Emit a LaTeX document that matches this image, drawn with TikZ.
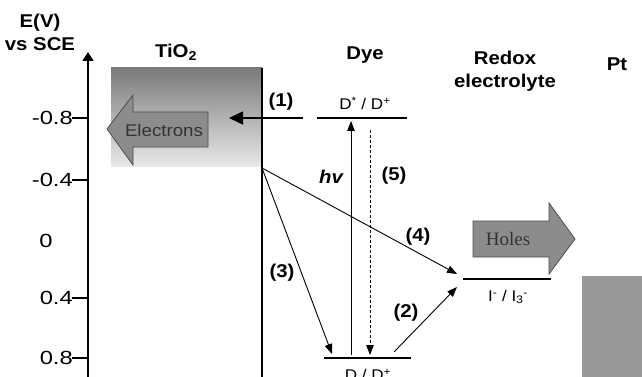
\documentclass[tikz,border=0pt]{standalone}
\usepackage{fontspec}
\setmainfont[FakeStretch=1.1]{Liberation Sans}
\newfontfamily\serif{Liberation Serif}
\newfontfamily\axfont[FakeStretch=1.25]{Liberation Sans}
\usetikzlibrary{arrows.meta}
\begin{document}
\begin{tikzpicture}[x=1pt,y=-1pt,
  lbl/.style={font=\fontsize{18.5}{23}\selectfont\bfseries, inner sep=0pt, align=center},
  axlabel/.style={font=\axfont\fontsize{19}{22}\selectfont, inner sep=0pt, anchor=east},
  lvl/.style={line width=2.2pt},
  small/.style={font=\fontsize{15.5}{17}\selectfont, inner sep=0pt},
  arr/.style={line width=0.9pt, -{Triangle[length=10pt,width=7.5pt]}},
  bigarrow/.style={draw=black!70, line width=0.8pt}
]
\useasboundingbox (0,0) rectangle (642,377);
% axis
\coordinate (axb) at (88,377);
\coordinate (axt) at (88,52);
\draw[line width=1.8pt, -{Triangle[length=9pt,width=11pt]}] (axb) -- (axt);
\foreach \v/\y in {-0.8/118,-0.4/180,0.4/298,0.8/358}{
  \draw[line width=1.4pt] (72,\y) -- (88,\y);
  \node[axlabel] at (73,\y) {\v};
}
\node[axlabel, anchor=center] (zero) at (46,241) {0};
\node[lbl] (ev) at (40,32) {E(V)\\vs SCE};
% TiO2
\shade[top color=black!52, bottom color=black!9] (111,68) rectangle (262,166);
\coordinate (tioT) at (262,68);
\coordinate (tioB) at (262,377);
\draw[line width=1.8pt] (tioT) -- (tioB);
\node[lbl] (tio) at (176,52) {TiO\textsubscript{2}};
\draw[bigarrow, fill=black!45] (107,129) -- (133,95) -- (133,112) -- (208,112) -- (208,147) -- (133,147) -- (133,165) -- cycle;
\node[font=\fontsize{17}{19}\selectfont, text=black!80, inner sep=0pt] (el) at (164,130) {Electrons};
% Dye
\node[lbl] (dye) at (365,55) {Dye};
\coordinate (dtL) at (317,118);
\coordinate (dtR) at (407,118);
\draw[lvl] (dtL) -- (dtR);
\node[small] (dtlab) at (365,103) {D\textsuperscript{*} / D\textsuperscript{+}};
\coordinate (dbL) at (324,358);
\coordinate (dbR) at (411,358);
\draw[lvl] (dbL) -- (dbR);
\node[small, anchor=north] (dblab) at (368,369) {D / D\textsuperscript{+}};
% hv
\coordinate (hvb) at (351,355);
\coordinate (hvt) at (351,121);
\draw[arr] (hvb) -- (hvt);
\node[lbl, font=\fontsize{18.5}{23}\selectfont\bfseries\itshape] (hv) at (331,177) {hv};
% (5)
\coordinate (d5t) at (370,130);
\coordinate (d5b) at (370,355);
\draw[arr, dash pattern=on 3pt off 2pt] (d5t) -- (d5b);
\node[lbl] (l5) at (394,176) {(5)};
% (1)
\coordinate (a1s) at (303,118);
\coordinate (a1e) at (229,118);
\draw[line width=1.6pt, -{Triangle[length=14pt,width=13pt]}] (a1s) -- (a1e);
\node[lbl] (l1) at (281,102) {(1)};
% (3) and (4)
\coordinate (src) at (262,168);
\coordinate (a3e) at (332,354);
\coordinate (a4e) at (457,274);
\draw[arr] (src) -- (a3e);
\draw[arr] (src) -- (a4e);
\node[lbl] (l3) at (282,273) {(3)};
\node[lbl] (l4) at (418,237) {(4)};
% (2)
\coordinate (a2s) at (394,352);
\coordinate (a2e) at (457,287);
\draw[arr] (a2s) -- (a2e);
\node[lbl] (l2) at (406,313) {(2)};
% redox
\node[lbl] (redox) at (505,71) {Redox\\electrolyte};
\coordinate (rL) at (463,279);
\coordinate (rR) at (551,279);
\draw[lvl] (rL) -- (rR);
\node[small] (rlab) at (508,297) {I\textsuperscript{-} / I\textsubscript{3}\textsuperscript{-}};
\draw[bigarrow, fill=black!45] (473,221) -- (549,221) -- (549,203) -- (575,239) -- (549,274) -- (549,257) -- (473,257) -- cycle;
\node[font=\serif\fontsize{19}{21}\selectfont, text=black!80, inner sep=0pt] (holes) at (508,239) {Holes};
% Pt
\node[lbl] (pt) at (617,64) {Pt};
\fill[black!40] (582,276) rectangle (642,377);
\end{tikzpicture}
\end{document}
